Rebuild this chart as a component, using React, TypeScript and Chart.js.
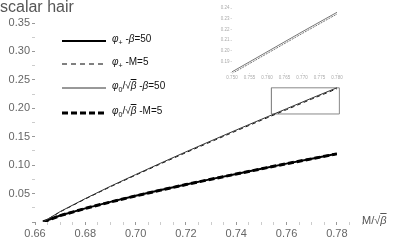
import React, { useEffect, useRef } from "react";
import { Chart, registerables } from "chart.js";

Chart.register(...registerables);

// ---- data ----
const xValues = [0.6632, 0.67, 0.68, 0.69, 0.70, 0.71, 0.72, 0.73, 0.74, 0.75, 0.76, 0.77, 0.78];
// phi0/sqrt(beta), beta=50 (thin solid)
const upperSolid = [0, 0.0183, 0.0412, 0.0628, 0.0834, 0.1036, 0.1234, 0.1427, 0.1618, 0.1806, 0.1992, 0.2178, 0.236];
// phi+, M=5 (thin dashed)
const upperDashed = [0, 0.0178, 0.0405, 0.062, 0.0824, 0.1024, 0.122, 0.1412, 0.1602, 0.179, 0.1976, 0.2162, 0.2344];
// phi+, beta=50 (thick solid)
const lowerSolid = [0, 0.0113, 0.024, 0.0354, 0.046, 0.0562, 0.066, 0.0754, 0.0846, 0.0937, 0.1027, 0.1113, 0.12];
// phi0/sqrt(beta), M=5 (thick dashed)
const lowerDashed = [0, 0.0112, 0.0238, 0.0352, 0.0458, 0.056, 0.0658, 0.0752, 0.0844, 0.0935, 0.1025, 0.1111, 0.1198];

// zoom box
const boxX = [0.754, 0.781, 0.781, 0.754, 0.754];
const boxY = [0.19, 0.19, 0.236, 0.236, 0.19];

// inset
const insetX = [0.75, 0.76, 0.77, 0.78];
const insetSolid = [0.1806, 0.1992, 0.2178, 0.236];
const insetDashed = [0.179, 0.1976, 0.2162, 0.2344];

const FONT = "'Liberation Sans', Arial, sans-serif";

const pts = (xs: number[], ys: number[]) => xs.map((x, i) => ({ x, y: ys[i] }));

function MainChart() {
  const ref = useRef<HTMLCanvasElement>(null);
  useEffect(() => {
    const chart = new Chart(ref.current!, {
      type: "scatter",
      data: {
        datasets: [
          { data: pts(xValues, upperSolid), borderColor: "#333", borderWidth: 1, showLine: true, pointRadius: 0 },
          { data: pts(xValues, upperDashed), borderColor: "#111", borderWidth: 1, borderDash: [4, 3], showLine: true, pointRadius: 0 },
          { data: pts(xValues, lowerSolid), borderColor: "#000", borderWidth: 2, showLine: true, pointRadius: 0 },
          { data: pts(xValues, lowerDashed), borderColor: "#000", borderWidth: 3, borderDash: [6, 3], showLine: true, pointRadius: 0 },
          { data: pts(boxX, boxY), borderColor: "#888", borderWidth: 1, showLine: true, pointRadius: 0, tension: 0 },
        ],
      },
      options: {
        responsive: false,
        animation: false,
        devicePixelRatio: 1,
        layout: { padding: { left: 0, top: 23, right: 41, bottom: 0 } },
        plugins: { legend: { display: false }, tooltip: { enabled: false } },
        scales: {
          x: {
            type: "linear",
            min: 0.66,
            max: 0.79,
            afterFit: (s: any) => { s.height = 18; },
            border: { display: false },
            grid: {
              drawOnChartArea: false,
              drawTicks: true,
              tickLength: 3,
              tickColor: (c: any) => (c.tick && Math.round(c.tick.value * 1000) % 20 === 0 ? "#999" : "#ccc"),
            },
            ticks: {
              stepSize: 0.005,
              autoSkip: false,
              maxRotation: 0,
              padding: 2,
              color: "#666",
              font: { family: FONT, size: 11 },
              callback: (v: any) => {
                const k = Math.round(v * 1000);
                return k % 20 === 0 && k <= 780 ? (k / 1000).toFixed(2) : "";
              },
            },
          },
          y: {
            type: "linear",
            min: 0,
            max: 0.35,
            afterFit: (s: any) => { s.width = 35; },
            border: { display: false },
            grid: {
              drawOnChartArea: false,
              drawTicks: true,
              tickLength: 3,
              tickColor: (c: any) => (c.tick && Math.round(c.tick.value * 1000) % 50 === 0 ? "#999" : "#ccc"),
            },
            ticks: {
              stepSize: 0.025,
              autoSkip: false,
              padding: 2,
              color: "#666",
              font: { family: FONT, size: 11 },
              callback: (v: any) => {
                const k = Math.round(v * 1000);
                return k > 0 && k % 50 === 0 ? (k / 1000).toFixed(2) : "";
              },
            },
          },
        },
      },
    } as any);
    return () => chart.destroy();
  }, []);
  return <canvas ref={ref} width={403} height={240} style={{ position: "absolute", left: 0, top: 0 }} />;
}

function InsetChart() {
  const ref = useRef<HTMLCanvasElement>(null);
  useEffect(() => {
    const chart = new Chart(ref.current!, {
      type: "scatter",
      data: {
        datasets: [
          { data: pts(insetX, insetSolid), borderColor: "#777", borderWidth: 1, showLine: true, pointRadius: 0 },
          { data: pts(insetX, insetDashed), borderColor: "#777", borderWidth: 1, borderDash: [2, 1], showLine: true, pointRadius: 0 },
        ],
      },
      options: {
        responsive: false,
        animation: false,
        devicePixelRatio: 1,
        layout: { padding: { left: 0, top: 8, right: 8, bottom: 0 } },
        plugins: { legend: { display: false }, tooltip: { enabled: false } },
        scales: {
          x: {
            type: "linear",
            min: 0.75,
            max: 0.78,
            afterFit: (s: any) => { s.height = 9.5; },
            border: { display: false },
            grid: { drawOnChartArea: false, tickLength: 1.5, tickColor: "#ddd" },
            ticks: {
              stepSize: 0.005,
              autoSkip: false,
              maxRotation: 0,
              padding: 1,
              color: "#aaa",
              font: { family: FONT, size: 4.5 },
              callback: (v: any) => (Math.round(v * 1000) / 1000).toFixed(3),
            },
          },
          y: {
            type: "linear",
            min: 0.18,
            max: 0.24,
            afterFit: (s: any) => { s.width = 27; },
            border: { display: false },
            grid: { drawOnChartArea: false, tickLength: 1.5, tickColor: "#ddd" },
            ticks: {
              stepSize: 0.01,
              autoSkip: false,
              padding: 1,
              color: "#aaa",
              font: { family: FONT, size: 4.5 },
              callback: (v: any) => {
                const k = Math.round(v * 100);
                return k > 18 ? (k / 100).toFixed(2) : "";
              },
            },
          },
        },
      },
    } as any);
    return () => chart.destroy();
  }, []);
  return <canvas ref={ref} width={140} height={82} style={{ position: "absolute", left: 205, top: 0 }} />;
}

const legendRows: { label: React.ReactNode; width: number; dash: string; color: string; y: number }[] = [
  { label: <><i>φ</i><sub style={{ fontSize: 7 }}>+</sub> -<i>β</i>=50</>, width: 2, dash: "", color: "#000", y: 41 },
  { label: <><i>φ</i><sub style={{ fontSize: 7 }}>+</sub> -M=5</>, width: 1, dash: "5 4", color: "#000", y: 64 },
  { label: <><i>φ</i><sub style={{ fontSize: 7 }}>0</sub>/√<span style={{ textDecoration: "overline" }}><i>β</i></span> -<i>β</i>=50</>, width: 1, dash: "", color: "#333", y: 88 },
  { label: <><i>φ</i><sub style={{ fontSize: 7 }}>0</sub>/√<span style={{ textDecoration: "overline" }}><i>β</i></span> -M=5</>, width: 3, dash: "6 3", color: "#000", y: 113 },
];

export default function App() {
  return (
    <div style={{ position: "absolute", left: 0, top: 0, width: 403, height: 240, background: "#fff", overflow: "hidden", fontFamily: FONT }}>
      <MainChart />
      <InsetChart />
      <div style={{ position: "absolute", left: 0, top: -2, fontSize: 16, lineHeight: "18px", color: "#555" }}>scalar hair</div>
      <div style={{ position: "absolute", left: 362, top: 214, fontSize: 11, lineHeight: "13px", color: "#555" }}>
        M/√<span style={{ textDecoration: "overline" }}><i>β</i></span>
      </div>
      {legendRows.map((r, i) => (
        <div key={i} style={{ position: "absolute", left: 62, top: r.y - 7, height: 14, display: "flex", alignItems: "center" }}>
          <svg width={44} height={6} style={{ display: "block" }}>
            <line x1={0} y1={3} x2={44} y2={3} stroke={r.color} strokeWidth={r.width} strokeDasharray={r.dash || undefined} />
          </svg>
          <span style={{ marginLeft: 6, fontSize: 10, lineHeight: "14px", color: "#111", whiteSpace: "nowrap" }}>{r.label}</span>
        </div>
      ))}
    </div>
  );
}
